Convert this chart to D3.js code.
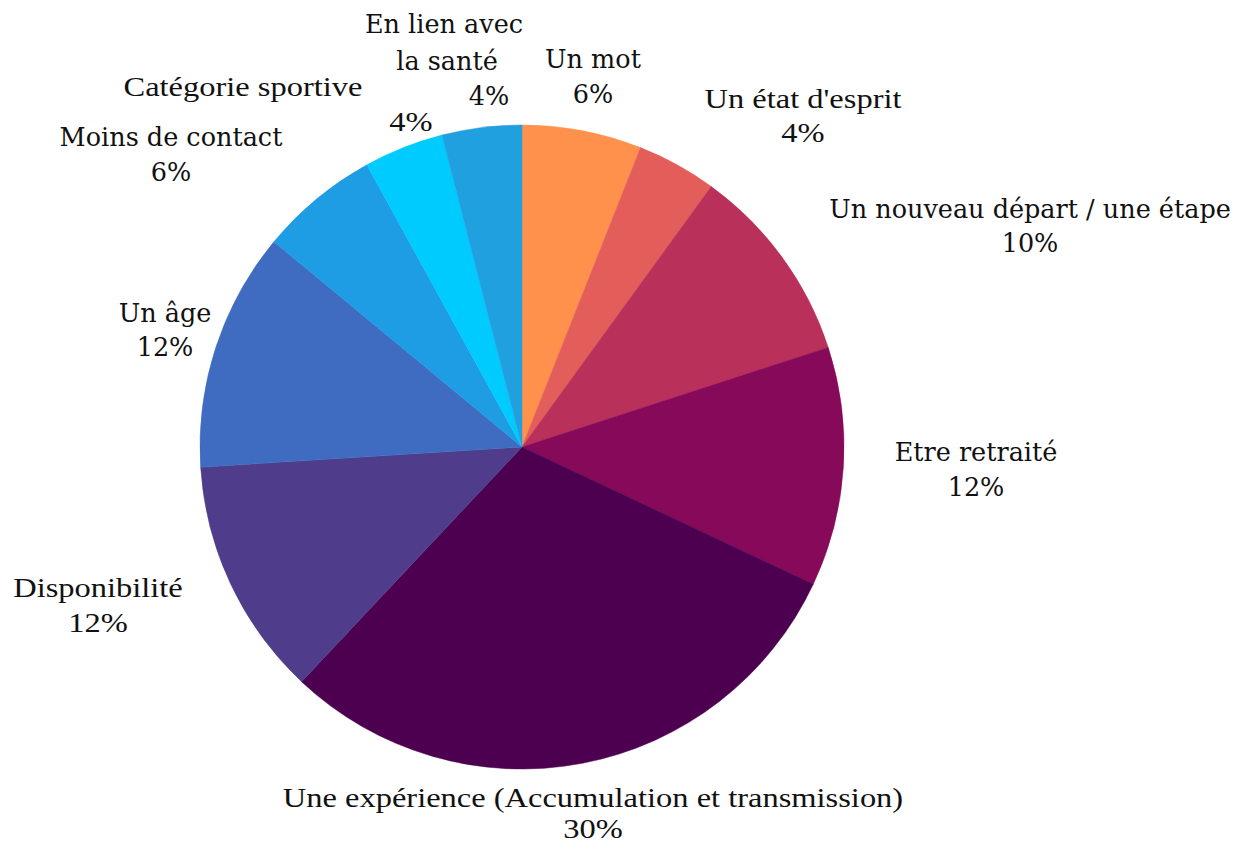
<!DOCTYPE html>
<html>
<head>
<meta charset="utf-8">
<script src="https://cdn.jsdelivr.net/npm/d3@7"></script>
<style>
  html, body { margin: 0; padding: 0; background: #ffffff; }
  svg { display: block; }
  .wide { font-family: "DejaVu Serif", serif; font-size: 25.5px; }
  .narrow { font-family: "Liberation Serif", serif; font-size: 28px; }
  text { fill: #111111; }
</style>
</head>
<body>
<svg id="chart" width="1243" height="843"></svg>
<script>
// Slice data, clockwise from 12 o'clock
const categories = [
  "Un mot",
  "Un état d'esprit",
  "Un nouveau départ / une étape",
  "Etre retraité",
  "Une expérience (Accumulation et transmission)",
  "Disponibilité",
  "Un âge",
  "Moins de contact",
  "Catégorie sportive",
  "En lien avec la santé"
];
const values = [6, 4, 10, 12, 30, 12, 12, 6, 4, 4];
const colors = [
  "#FF914D", "#E35E5A", "#B9305A", "#870A5A", "#4D004F",
  "#4F3D8B", "#3F6CC1", "#1E9DE5", "#00CBFE", "#21A0E0"
];

// Label layout: lines of the category name, their anchor points, and the percent anchor
const labelLayout = [
  { lines: ["Un mot"], at: [[593, 68]], pct: [593, 103], cls: "wide" },
  { lines: ["Un état d'esprit"], at: [[803, 108]], pct: [803, 142], cls: "narrow" },
  { lines: ["Un nouveau départ / une étape"], at: [[1030, 218]], pct: [1030, 252], cls: "wide" },
  { lines: ["Etre retraité"], at: [[976, 461]], pct: [976, 496], cls: "wide" },
  { lines: ["Une expérience (Accumulation et transmission)"], at: [[593, 807]], pct: [593, 838], cls: "narrow" },
  { lines: ["Disponibilité"], at: [[98, 597]], pct: [98, 632], cls: "narrow" },
  { lines: ["Un âge"], at: [[165, 322]], pct: [165, 356], cls: "wide" },
  { lines: ["Moins de contact"], at: [[171, 146]], pct: [171, 181], cls: "wide" },
  { lines: ["Catégorie sportive"], at: [[243, 96]], pct: [411, 131], cls: "narrow" },
  { lines: ["En lien avec", "la santé"], at: [[444, 33], [447, 70]], pct: [489, 105], cls: "wide" }
];

const svg = d3.select("#chart");
const cx = 522, cy = 447, radius = 322;

const pie = d3.pie().sort(null).value(d => d.value);
const arc = d3.arc().innerRadius(0).outerRadius(radius);

const data = categories.map((c, i) => ({ name: c, value: values[i], color: colors[i], layout: labelLayout[i] }));
const arcs = pie(data);

const g = svg.append("g").attr("transform", `translate(${cx},${cy})`);
g.selectAll("path")
  .data(arcs)
  .join("path")
  .attr("d", arc)
  .attr("fill", d => d.data.color)
  .attr("stroke", d => d.data.color)
  .attr("stroke-width", 0.5);

const total = d3.sum(values);
const fmt = v => Math.round(v / total * 100) + "%";

// The lighter serif labels are drawn slightly stretched horizontally
const stretch = { wide: 1, narrow: 1.16 };

const labels = svg.append("g");
function addText(cls, x, y, str) {
  labels.append("g")
    .attr("transform", `translate(${x},${y}) scale(${stretch[cls]},1)`)
    .append("text")
    .attr("class", cls)
    .attr("text-anchor", "middle")
    .text(str);
}
arcs.forEach(a => {
  const L = a.data.layout;
  L.lines.forEach((line, k) => addText(L.cls, L.at[k][0], L.at[k][1], line));
  addText(L.cls, L.pct[0], L.pct[1], fmt(a.data.value));
});
</script>
</body>
</html>
